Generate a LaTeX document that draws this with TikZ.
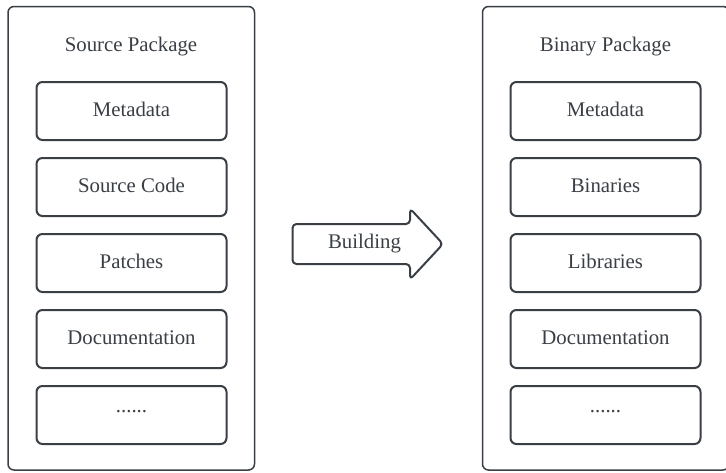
\documentclass[tikz,border=0pt]{standalone}
\usepackage{fontspec}
\setmainfont{Liberation Serif}
\definecolor{edge}{HTML}{3A3F45}
\definecolor{ink}{HTML}{3A3F45}
\tikzset{
  container/.style={draw=edge, line width=1.5pt, rounded corners=6pt, fill=white},
  item/.style={draw=edge, line width=2pt, rounded corners=6pt, fill=white},
  lbl/.style={anchor=base, text=ink, inner sep=0pt, font=\fontsize{20.8}{25}\selectfont},
}
\begin{document}
\begin{tikzpicture}[x=1pt,y=-1pt]
\useasboundingbox (0,0) rectangle (726,472);
\begin{scope}
\clip (0,0) rectangle (726,472);
% containers
\draw[container] (8,6.5) rectangle (254.5,470);
\draw[container] (482.5,6.5) rectangle (729,470);
\node[lbl] (srcT) at (131,51.5) {Source Package};
\node[lbl] (binT) at (605.5,51.5) {Binary Package};
% left items
\foreach \i/\t/\n in {0/Metadata/sa,1/Source Code/sb,2/Patches/sc,3/Documentation/sd}{
  \draw[item] (36.5,82+76*\i) rectangle (226.5,140+76*\i);
  \node[lbl] (\n) at (131.5,116+76*\i) {\t};
}
\draw[item] (36.5,386) rectangle (226.5,444);
\node[lbl] (se) at (131.5,412.5) {......};
% right items
\foreach \i/\t/\n in {0/Metadata/ba,1/Binaries/bb,2/Libraries/bc,3/Documentation/bd}{
  \draw[item] (510.5,82+76*\i) rectangle (700.5,140+76*\i);
  \node[lbl] (\n) at (605.5,116+76*\i) {\t};
}
\draw[item] (510.5,386) rectangle (700.5,444);
\node[lbl] (be) at (605.5,412.5) {......};
% arrow
\draw[draw=edge, line width=2pt, fill=white, rounded corners=4pt, line join=round]
  (292.5,224) -- (410,224) -- (410,208.5) -- (443,244) -- (410,279.5) -- (410,264) -- (292.5,264) -- cycle;
\node[lbl] (build) at (364.5,248.5) {Building};
\end{scope}
\end{tikzpicture}
\end{document}
